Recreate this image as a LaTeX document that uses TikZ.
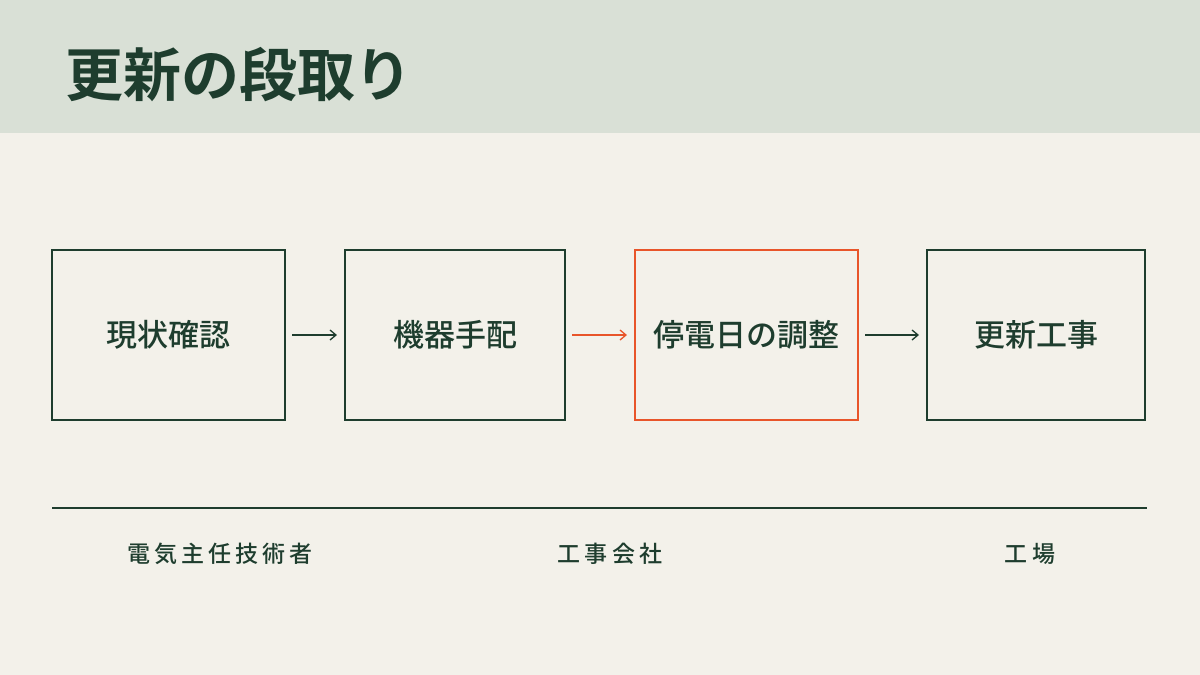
\documentclass[tikz,border=0pt]{standalone}
\usepackage{fontspec}
\setmainfont{Noto Sans CJK JP}
\newfontfamily\titlefont{Noto Sans CJK JP Bold}
\newfontfamily\boxfont{Noto Sans CJK JP Medium}
\newfontfamily\rolefont[LetterSpace=18]{Noto Sans CJK JP Medium}
\usetikzlibrary{arrows.meta}
\definecolor{mgreen}{RGB}{30,61,46}
\definecolor{morange}{RGB}{232,85,42}
\definecolor{mband}{RGB}{217,224,214}
\definecolor{mpaper}{RGB}{243,241,234}

\tikzset{
  stage/.style={draw=mgreen, line width=1.5pt, minimum width=233pt, minimum height=170pt, font=\boxfont\fontsize{31}{35}\selectfont, text=mgreen},
  flow/.style={-{Straight Barb[length=6pt,width=10pt]}, line width=1.3pt, draw=mgreen, shorten <=7pt, shorten >=8pt},
  role/.style={font=\rolefont\fontsize{23}{26}\selectfont, text=mgreen}
}

\begin{document}
\begin{tikzpicture}[y=-1pt, x=1pt, inner sep=0pt, outer sep=0pt]

% background
\fill[mpaper] (0,0) rectangle (1200,675);
\fill[mband] (0,0) rectangle (1200,133);
\useasboundingbox (0,0) rectangle (1200,675);

% title
\node[anchor=west, text=mgreen, font=\titlefont\fontsize{58}{62}\selectfont] (title) at (65,75) {更新の段取り};

% stages
\node[stage] (survey) at (168.5,335) {現状確認};
\node[stage, minimum width=220pt] (order) at (455,335) {機器手配};
\node[stage, draw=morange, minimum width=223pt] (outage) at (746.5,335) {停電日の調整};
\node[stage, minimum width=218pt] (work) at (1036,335) {更新工事};

\draw[flow] (survey) -- (order);
\draw[flow, draw=morange] (order) -- (outage);
\draw[flow] (outage) -- (work);

% roles
\coordinate (lineL) at (52,508);
\coordinate (lineR) at (1147,508);
\draw[mgreen, line width=1.2pt] (lineL) -- (lineR);

\node[role] (engineer) at (220,554) {電気主任技術者};
\node[role] (contractor) at (610,554) {工事会社};
\node[role] (plant) at (1030,554) {工場};

\end{tikzpicture}
\end{document}
